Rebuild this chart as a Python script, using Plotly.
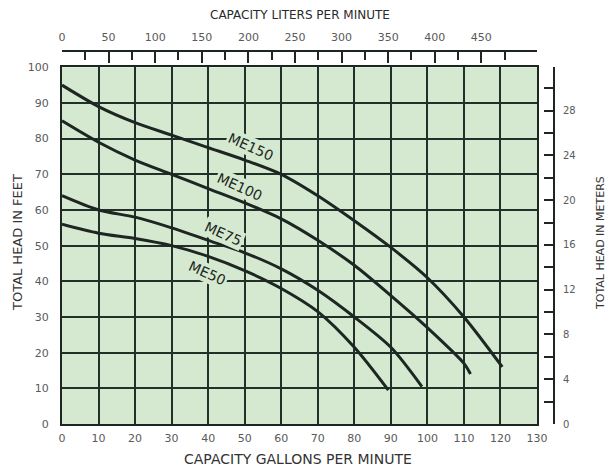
import plotly.graph_objects as go

# ---- data ----
gpm_me150 = [0, 10, 20, 30, 40, 50, 60, 70, 80, 90, 100, 110, 120.5]
head_me150 = [95, 89, 84.5, 81, 77.5, 74, 70, 64, 57, 49.5, 41, 30, 16]

gpm_me100 = [0, 10, 20, 30, 40, 50, 60, 70, 80, 90, 100, 110, 111.8]
head_me100 = [85, 79, 74, 70, 66, 62, 57.5, 51.5, 44.5, 36, 27, 17, 14]

gpm_me75 = [0, 10, 20, 30, 40, 50, 60, 70, 80, 90, 98.5]
head_me75 = [64, 60, 58, 55, 51.5, 48, 43.5, 37.5, 30, 21.5, 10.5]

gpm_me50 = [0, 10, 20, 30, 40, 50, 60, 70, 80, 89.3]
head_me50 = [56, 53.5, 52, 50, 47, 43, 38, 31.5, 21.5, 9.5]

series_names = ["ME150", "ME100", "ME75", "ME50"]
label_gpm = [51.8, 48.8, 44.3, 39.7]
label_head = [77.7, 66.5, 53.4, 42.4]

gpm_ticks = list(range(0, 131, 10))
head_ticks = list(range(0, 101, 10))
liter_ticks = list(range(0, 451, 50))
liter_minor = list(range(0, 476, 25))
meter_ticks = list(range(0, 29, 4))
meter_minor = list(range(0, 31, 2))

L_PER_GAL = 3.785411784
FT_PER_M = 3.28084

# ---- layout geometry ----
W, H = 611, 467
L_PX, R_PX, T_PX, B_PX = 62, 554, 51, 424
ML, MT, MR, MB = L_PX, T_PX, W - R_PX, H - B_PX
PW = W - ML - MR
PH = H - MT - MB
plot_right_px = 537
plot_top_px = 67.3
xdom = (plot_right_px - L_PX) / PW
ydom = (B_PX - plot_top_px) / PH

GPM_MAX = 130
FT_MAX = 100
liter_max = GPM_MAX / xdom * L_PER_GAL
meter_max = FT_MAX / ydom / FT_PER_M

BG = "#d4e9cf"
DARK = "#1d2622"
GRID = "#22302a"
TXT = "#5a5a5a"
FONT = "DejaVu Sans"

fig = go.Figure()
curves = [(gpm_me150, head_me150), (gpm_me100, head_me100),
          (gpm_me75, head_me75), (gpm_me50, head_me50)]
for name, (xs, ys) in zip(series_names, curves):
    fig.add_trace(go.Scatter(x=xs, y=ys, mode="lines", name=name,
                             line=dict(color=DARK, width=3, shape="spline", smoothing=0.8),
                             showlegend=False, hoverinfo="skip"))

# invisible traces to activate secondary axes
fig.add_trace(go.Scatter(x=[0], y=[0], xaxis="x2", yaxis="y", mode="markers",
                         marker=dict(opacity=0), showlegend=False, hoverinfo="skip"))
fig.add_trace(go.Scatter(x=[0], y=[0], xaxis="x", yaxis="y2", mode="markers",
                         marker=dict(opacity=0), showlegend=False, hoverinfo="skip"))

fig.update_layout(
    width=W, height=H,
    margin=dict(l=ML, r=MR, t=MT, b=MB, pad=0, autoexpand=False),
    paper_bgcolor="white",
    plot_bgcolor=BG,
    font=dict(family=FONT, size=11, color=TXT),
    xaxis=dict(domain=[0, xdom], range=[0, GPM_MAX], tickvals=gpm_ticks,
               showgrid=True, gridcolor=GRID, gridwidth=1.5,
               showline=True, linecolor=DARK, linewidth=2.2, mirror=True,
               ticks="", zeroline=False, ticklabelstandoff=3, automargin=False,
               tickfont=dict(family=FONT, size=11, color=TXT)),
    yaxis=dict(domain=[0, ydom], range=[0, FT_MAX], tickvals=head_ticks,
               showgrid=True, gridcolor=GRID, gridwidth=1.5,
               showline=True, linecolor=DARK, linewidth=2.2, mirror=True,
               ticks="", zeroline=False, ticklabelstandoff=9, automargin=False,
               tickfont=dict(family=FONT, size=11, color=TXT)),
    xaxis2=dict(domain=[0, 1], range=[0, liter_max], overlaying="x", anchor="free",
                position=1, side="top", tickvals=liter_ticks,
                showgrid=False, zeroline=False, showline=True, linecolor=DARK,
                linewidth=1.8, ticks="inside", ticklen=11, tickwidth=1.5,
                tickcolor=DARK, ticklabelstandoff=5, automargin=False,
                minor=dict(tickvals=liter_minor, ticks="inside", ticklen=8,
                           tickwidth=1.5, tickcolor=DARK, showgrid=False),
                tickfont=dict(family=FONT, size=11, color=TXT)),
    yaxis2=dict(domain=[0, 1], range=[0, meter_max], overlaying="y", anchor="free",
                position=1, side="right", tickvals=meter_ticks,
                showgrid=False, zeroline=False, showline=True, linecolor=DARK,
                linewidth=1.8, ticks="inside", ticklen=9, tickwidth=1.5,
                tickcolor=DARK, ticklabelstandoff=6, automargin=False,
                minor=dict(tickvals=meter_minor, ticks="inside", ticklen=9,
                           tickwidth=1.5, tickcolor=DARK, showgrid=False),
                tickfont=dict(family=FONT, size=10, color=TXT)),
)


def px_x(X):
    return (X - L_PX) / PW


def px_y(Y):
    return (B_PX - Y) / PH


annotations = [
    dict(text="CAPACITY LITERS PER MINUTE", x=px_x(300), y=px_y(15),
         font=dict(family=FONT, size=12, color="#2a2a2a")),
    dict(text="CAPACITY GALLONS PER MINUTE", x=px_x(298), y=px_y(459),
         font=dict(family=FONT, size=14, color="#333333")),
    dict(text="TOTAL HEAD IN FEET", x=px_x(17), y=px_y(243), textangle=-90,
         font=dict(family=FONT, size=13, color="#333333")),
    dict(text="TOTAL HEAD IN METERS", x=px_x(600), y=px_y(243), textangle=-90,
         font=dict(family=FONT, size=11, color="#333333")),
]
for a in annotations:
    a.update(xref="paper", yref="paper", showarrow=False,
             xanchor="center", yanchor="middle")

for name, gx, hy in zip(series_names, label_gpm, label_head):
    annotations.append(dict(text=name, x=gx, y=hy, xref="x", yref="y",
                            showarrow=False, textangle=24, bgcolor=BG, borderpad=1,
                            font=dict(family=FONT, size=14, color=DARK)))

fig.update_layout(annotations=annotations)

fig.write_html(
    "out.html",
    config={"displayModeBar": False},
    post_script="document.body.style.margin='0';document.body.style.overflow='hidden';",
)
